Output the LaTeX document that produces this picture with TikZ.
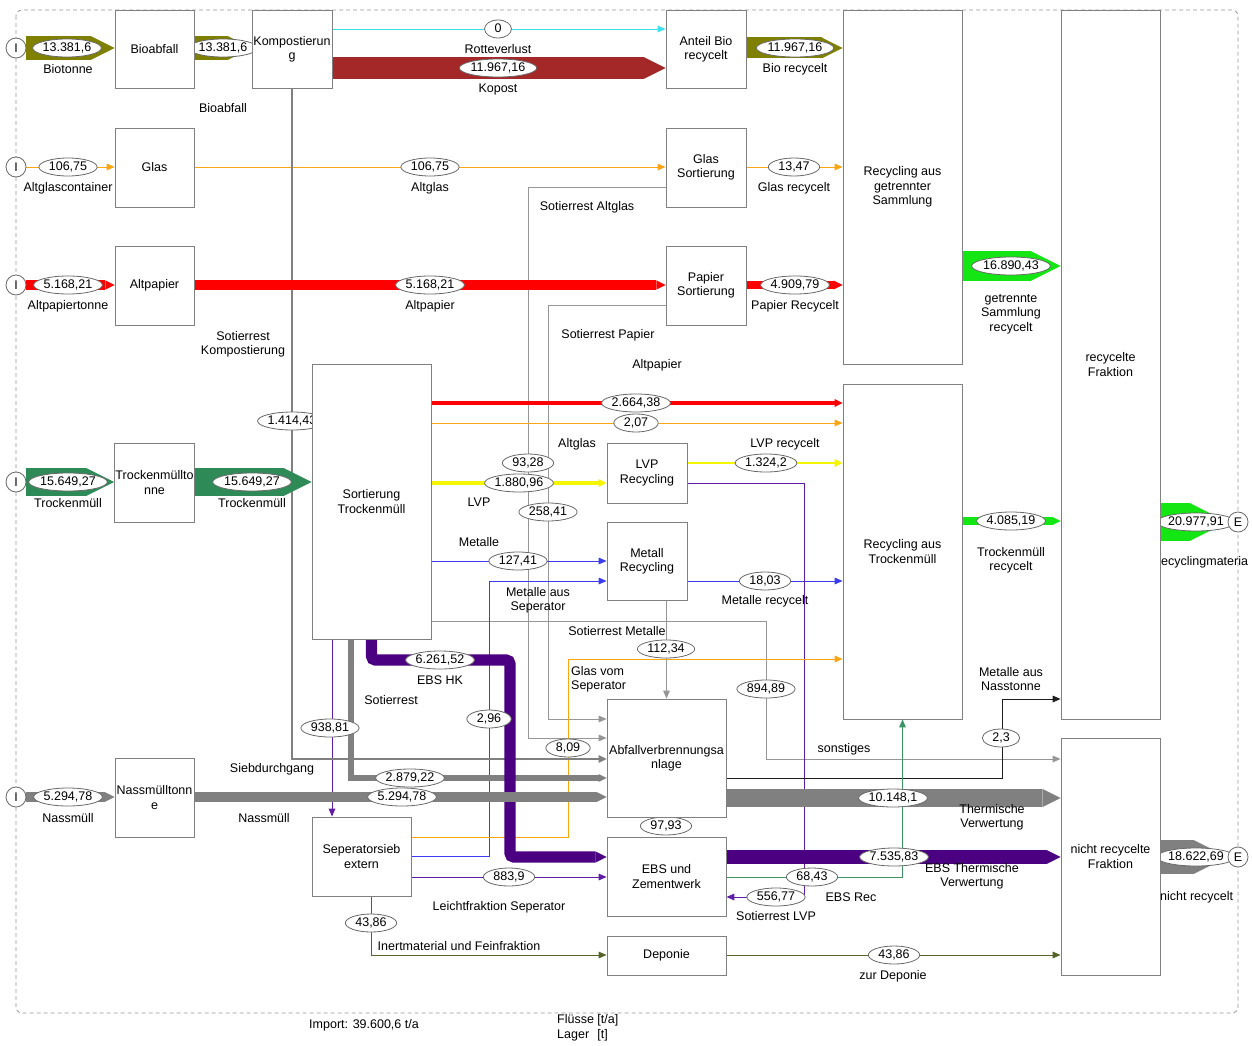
\documentclass[tikz,border=0pt]{standalone}
\usepackage{fontspec}
\setmainfont{Liberation Sans}
\usetikzlibrary{arrows.meta,shapes.geometric}

\definecolor{boxgray}{RGB}{128,128,128}
\definecolor{ellgray}{RGB}{105,105,105}
\definecolor{framegray}{RGB}{150,150,150}
\definecolor{bioolive}{RGB}{128,128,0}
\definecolor{kompbrown}{RGB}{165,40,40}
\definecolor{paperred}{RGB}{255,0,0}
\definecolor{glasorange}{RGB}{250,165,20}
\definecolor{losscyan}{RGB}{60,225,240}
\definecolor{drygreen}{RGB}{46,139,87}
\definecolor{recgreen}{RGB}{20,230,20}
\definecolor{wetgray}{RGB}{128,128,128}
\definecolor{restgray}{RGB}{150,150,150}
\definecolor{lvpyellow}{RGB}{245,245,0}
\definecolor{metblue}{RGB}{60,60,240}
\definecolor{ebsindigo}{RGB}{75,0,130}
\definecolor{ebsthin}{RGB}{95,30,165}
\definecolor{ebsgreen}{RGB}{60,150,100}
\definecolor{landolive}{RGB}{85,100,40}
\definecolor{metblack}{RGB}{30,30,30}

\pgfdeclarelayer{flows}
\pgfdeclarelayer{labels}
\pgfsetlayers{flows,labels,main}

% value ellipse: 20pt wider than its text
\newcommand\vlab[3]{\node[val, minimum width={width("#3")+20}] (#1) at (#2) {#3};}

\begin{document}
\fontsize{12.5}{14.3}\selectfont%
\begin{tikzpicture}[x=1pt,y=-1pt,
  font=\fontsize{12.5}{14.3}\selectfont,
  box/.style={draw=boxgray, line width=0.9pt, fill=white, align=center, inner sep=1pt},
  val/.style={ellipse, draw=ellgray, line width=0.8pt, fill=white, inner xsep=0pt, inner ysep=0pt,
              text height=9pt, text depth=1.6pt, minimum height=18pt},
  lab/.style={align=center, inner sep=0pt},
  port/.style={circle, draw=ellgray, fill=white, line width=0.8pt, minimum size=20pt, inner sep=0pt},
  band/.style n args={3}{draw=#1, line width=#2pt, -{Triangle[length=#3pt,width=#3pt,line width=0pt]}},
  thinarrow/.style={draw=#1, line width=0.9pt, -{Triangle[length=8pt,width=7pt,line width=0pt]}},
  frame/.style={draw=framegray, line width=0.8pt, dash pattern=on 4pt off 3pt, rounded corners=6pt},
]
\useasboundingbox (0,0) rectangle (1252,1046);

% ---------- processes ----------
\node[box, minimum width=79pt, minimum height=78pt] (bioab) at (154.5,49) {Bioabfall};
\node[box, minimum width=80pt, minimum height=78pt] (kompost) at (292,49) {Kompostierun\\g};
\node[box, minimum width=79pt, minimum height=79pt] (glas) at (154.5,167.5) {Glas};
\node[box, minimum width=79pt, minimum height=79pt] (altpap) at (154.5,285.5) {Altpapier};
\node[box, minimum width=79pt, minimum height=79pt] (trockton) at (154.5,482.5) {Trockenmüllto\\nne};
\node[box, minimum width=79pt, minimum height=79pt] (nasston) at (154.5,797.5) {Nassmülltonn\\e};
\node[box, minimum width=119pt, minimum height=275pt] (sortier) at (371.5,501.5) {Sortierung\\Trockenmüll};
\node[box, minimum width=99pt, minimum height=79pt] (sepsieb) at (361.5,856.5) {Seperatorsieb\\extern};
\node[box, minimum width=80pt, minimum height=78pt] (antbio) at (706,49) {Anteil Bio\\recycelt};
\node[box, minimum width=80pt, minimum height=79pt] (glassort) at (706,167.5) {Glas\\Sortierung};
\node[box, minimum width=80pt, minimum height=79pt] (papsort) at (706,285.5) {Papier\\Sortierung};
\node[box, minimum width=80pt, minimum height=60pt] (lvprec) at (647,473) {LVP\\Recycling};
\node[box, minimum width=80pt, minimum height=78pt] (metrec) at (647,561) {Metall\\Recycling};
\node[box, minimum width=119pt, minimum height=118pt] (mva) at (666.5,758) {Abfallverbrennungsa\\nlage};
\node[box, minimum width=119pt, minimum height=79pt] (ebs) at (666.5,876.5) {EBS und\\Zementwerk};
\node[box, minimum width=119pt, minimum height=39pt] (deponie) at (666.5,955.5) {Deponie};
\node[box, minimum width=119pt, minimum height=354pt] (recgetr) at (902.5,187) {Recycling aus\\getrennter\\Sammlung};
\node[box, minimum width=119pt, minimum height=335pt] (rectrock) at (902.5,551.5) {Recycling aus\\Trockenmüll};
\node[box, minimum width=99pt, minimum height=709pt] (recfrak) at (1110.5,364.5) {recycelte\\Fraktion};
\node[box, minimum width=99pt, minimum height=237pt] (nichtrec) at (1110.5,856.5) {nicht recycelte\\Fraktion};

% ---------- import / export ports ----------
\node[port] (i1) at (16,48) {I};
\node[port] (i2) at (16,167) {I};
\node[port] (i3) at (16,285) {I};
\node[port] (i4) at (16,482) {I};
\node[port] (i5) at (16,797) {I};
\node[port] (e1) at (1238,522) {E};
\node[port] (e2) at (1238,857) {E};

\begin{pgfonlayer}{flows}
\draw[frame] (16,10) rectangle (1238,1013);

% thin flows
\draw[thinarrow=losscyan] (kompost.east |- 0,29) -- (antbio.west |- 0,29);
\draw[thinarrow=glasorange] (i2.east) -- (i2 -| glas.west);
\draw[thinarrow=glasorange] (i2 -| glas.east) -- (i2 -| glassort.west);
\draw[thinarrow=glasorange] (i2 -| glassort.east) -- (i2 -| recgetr.west);
\draw[thinarrow=restgray] (glassort.west |- 0,187) -- (528,187) -- (528,738) -- (mva.west |- 0,738);
\draw[thinarrow=restgray] (papsort.west |- 0,305) -- (548,305) -- (548,719) -- (mva.west |- 0,719);
\draw[thinarrow=restgray] (sortier.east |- 0,621) -- (766,621) -- (766,759) -- (nichtrec.west |- 0,759);
\draw[thinarrow=restgray] (mva.north |- metrec.south) -- (mva.north);
\draw[thinarrow=glasorange] (sortier.east |- 0,423) -- (rectrock.west |- 0,423);
\draw[thinarrow=metblue] (sortier.east |- 0,561) -- (metrec.west |- 0,561);
\draw[thinarrow=metblue] (metrec.east |- 0,581) -- (rectrock.west |- 0,581);
\draw[thinarrow=ebsthin] (lvprec.east |- 0,483) -- (804,483) -- (804,897) -- (ebs.east |- 0,897);
\draw[thinarrow=ebsthin] (sortier.south -| 332,0) -- (sepsieb.north -| 332,0);
\draw[thinarrow=metblue] (sepsieb.east |- 0,856) -- (489,856) -- (489,581) -- (metrec.west |- 0,581);
\draw[thinarrow=glasorange] (sepsieb.east |- 0,837) -- (568,837) -- (568,659) -- (rectrock.west |- 0,659);
\draw[thinarrow=ebsthin] (sepsieb.east |- 0,877) -- (ebs.west |- 0,877);
\draw[thinarrow=landolive] (sepsieb.south -| 371,0) -- (371,955) -- (deponie.west |- 0,955);
\draw[thinarrow=metblack] (mva.east |- 0,778) -- (1002,778) -- (1002,699) -- (recfrak.west |- 0,699);
\draw[thinarrow=ebsgreen] (ebs.east |- 0,877) -| (rectrock.south);
\draw[thinarrow=landolive] (deponie.east |- 0,955) -- (nichtrec.west |- 0,955);

% bands, width proportional to mass flow
\draw[band={wetgray}{2.5}{8}] (kompost.south) -- (kompost.south |- 0,759) -- (mva.west |- 0,759);
\draw[band={bioolive}{24}{24}] (i1.east) -- (i1 -| bioab.west);
\draw[band={bioolive}{24}{24}] (i1 -| bioab.east) -- (i1 -| kompost.west);
\draw[band={kompbrown}{21.5}{21.5}] (kompost.east |- 0,68) -- (antbio.west |- 0,68);
\draw[band={bioolive}{21}{21}] (antbio.east |- i1) -- (recgetr.west |- i1);
\draw[band={paperred}{9.3}{9.3}] (i3.east) -- (i3 -| altpap.west);
\draw[band={paperred}{9.3}{9.3}] (i3 -| altpap.east) -- (i3 -| papsort.west);
\draw[band={paperred}{8.8}{9}] (i3 -| papsort.east) -- (i3 -| recgetr.west);
\draw[band={drygreen}{28.5}{28.5}] (i4.east) -- (i4 -| trockton.west);
\draw[band={drygreen}{28.5}{28.5}] (i4 -| trockton.east) -- (i4 -| sortier.west);
\draw[band={paperred}{4.8}{8}] (sortier.east |- 0,403) -- (rectrock.west |- 0,403);
\draw[band={lvpyellow}{3.4}{8}] (sortier.east |- 0,483) -- (lvprec.west |- 0,483);
\draw[band={lvpyellow}{2.4}{8}] (lvprec.east |- 0,463) -- (rectrock.west |- 0,463);
\draw[band={wetgray}{5.2}{8}] (sortier.south -| 351,0) -- (351,778) -- (mva.west |- 0,778);
\draw[band={ebsindigo}{11.3}{11.3}, rounded corners=4pt] (sortier.south) -- (371.5,660) -- (510,660) -- (510,857) -- (ebs.west |- 0,857);
\draw[band={wetgray}{9.5}{9.5}] (i5.east) -- (i5 -| nasston.west);
\draw[band={wetgray}{9.5}{9.5}] (i5 -| nasston.east) -- (i5 -| mva.west);
\draw[band={wetgray}{18.3}{18.3}] (mva.east |- 0,798) -- (nichtrec.west |- 0,798);
\draw[band={ebsindigo}{13.6}{13.6}] (ebs.east |- 0,857) -- (nichtrec.west |- 0,857);
\draw[band={recgreen}{30.4}{30.4}] (recgetr.east |- 0,266) -- (recfrak.west |- 0,266);
\draw[band={recgreen}{7.4}{8}] (rectrock.east |- 0,521) -- (recfrak.west |- 0,521);
\draw[band={recgreen}{37.8}{37.8}] (recfrak.east |- e1) -- (e1.west);
\draw[band={wetgray}{33.5}{33.5}] (nichtrec.east |- e2) -- (e2.west);
\end{pgfonlayer}

\begin{pgfonlayer}{labels}
% flow values
\vlab{v1}{67,48}{13.381,6}
\vlab{v2}{223,48}{13.381,6}
\vlab{v3}{498,29}{0}
\vlab{v4}{498,68}{11.967,16}
\vlab{v5}{795,48}{11.967,16}
\vlab{v6}{68,167}{106,75}
\vlab{v7}{430,167}{106,75}
\vlab{v8}{794,167}{13,47}
\vlab{v9}{68,285}{5.168,21}
\vlab{v10}{430,285}{5.168,21}
\vlab{v11}{795,285}{4.909,79}
\vlab{v12}{1011,266}{16.890,43}
\vlab{v13}{292,421}{1.414,43}
\vlab{v14}{636,403}{2.664,38}
\vlab{v15}{636,423}{2,07}
\vlab{v16}{528,463}{93,28}
\vlab{v17}{519,483}{1.880,96}
\vlab{v18}{766,463}{1.324,2}
\vlab{v19}{548,512}{258,41}
\vlab{v20}{518,561}{127,41}
\vlab{v21}{765,581}{18,03}
\vlab{v22}{68,482}{15.649,27}
\vlab{v23}{252,482}{15.649,27}
\vlab{v24}{1011,521}{4.085,19}
\vlab{v25}{1196,522}{20.977,91}
\vlab{v26}{666,649}{112,34}
\vlab{v27}{766,689}{894,89}
\vlab{v28}{440,660}{6.261,52}
\vlab{v29}{489,719}{2,96}
\vlab{v30}{330,728}{938,81}
\vlab{v31}{568,748}{8,09}
\vlab{v32}{1001,738}{2,3}
\vlab{v33}{410,778}{2.879,22}
\vlab{v34}{68,797}{5.294,78}
\vlab{v35}{402,797}{5.294,78}
\vlab{v36}{893,798}{10.148,1}
\vlab{v37}{666,826}{97,93}
\vlab{v38}{894,857}{7.535,83}
\vlab{v39}{812,877}{68,43}
\vlab{v40}{776,897}{556,77}
\vlab{v41}{509,877}{883,9}
\vlab{v42}{1196,857}{18.622,69}
\vlab{v43}{371,923}{43,86}
\vlab{v44}{894,955}{43,86}

% flow names
\node[lab] (t1) at (68,69) {Biotonne};
\node[lab] (t2) at (223,108) {Bioabfall};
\node[lab] (t3) at (498,49) {Rotteverlust};
\node[lab] (t4) at (498,89) {Kopost};
\node[lab] (t5) at (795,69) {Bio recycelt};
\node[lab] (t6) at (68,188) {Altglascontainer};
\node[lab] (t7) at (430,188) {Altglas};
\node[lab] (t8) at (794,188) {Glas recycelt};
\node[lab] (t9) at (587,207) {Sotierrest Altglas};
\node[lab] (t10) at (68,306) {Altpapiertonne};
\node[lab] (t11) at (430,306) {Altpapier};
\node[lab] (t12) at (795,306) {Papier Recycelt};
\node[lab] (t13) at (243,344) {Sotierrest\\Kompostierung};
\node[lab] (t14) at (608,335) {Sotierrest Papier};
\node[lab] (t15) at (657,365) {Altpapier};
\node[lab] (t16) at (1011,314) {getrennte\\Sammlung\\recycelt};
\node[lab] (t17) at (577,444) {Altglas};
\node[lab] (t18) at (785,444) {LVP recycelt};
\node[lab] (t19) at (68,503) {Trockenmüll};
\node[lab] (t20) at (252,503) {Trockenmüll};
\node[lab] (t21) at (479,502) {LVP};
\node[lab] (t22) at (479,542) {Metalle};
\node[lab] (t23) at (538,600) {Metalle aus\\Seperator};
\node[lab] (t24) at (765,601) {Metalle recycelt};
\node[lab] (t25) at (617,631) {Sotierrest Metalle};
\node[lab, align=left, anchor=west] (t26) at (571,679) {Glas vom\\Seperator};
\node[lab] (t27) at (1011,560) {Trockenmüll\\recycelt};
\node[lab, anchor=west] (t28) at (1161,562) {ecyclingmateria};
\node[lab] (t29) at (1011,679) {Metalle aus\\Nasstonne};
\node[lab] (t30) at (440,680) {EBS HK};
\node[lab] (t31) at (391,700) {Sotierrest};
\node[lab] (t32) at (272,769) {Siebdurchgang};
\node[lab] (t33) at (844,749) {sonstiges};
\node[lab] (t34) at (68,818) {Nassmüll};
\node[lab] (t35) at (264,818) {Nassmüll};
\node[lab] (t36) at (992,817) {Thermische\\Verwertung};
\node[lab] (t37) at (972,876) {EBS Thermische\\Verwertung};
\node[lab] (t38) at (851,897) {EBS Rec};
\node[lab] (t39) at (776,916) {Sotierrest LVP};
\node[lab] (t40) at (499,907) {Leichtfraktion Seperator};
\node[lab] (t41) at (459,946) {Inertmaterial und Feinfraktion};
\node[lab] (t42) at (893,976) {zur Deponie};
\node[lab, anchor=west] (t43) at (1160,897) {nicht recycelt};
\node[lab] (t44) at (364,1025) {Import: 39.600,6 t/a};
\node[lab, anchor=west] (t45) at (557,1028) {\begin{tabular}{@{}l@{ }l@{}}Flüsse & [t/a]\\ Lager & [t]\end{tabular}};
\end{pgfonlayer}
\end{tikzpicture}
\end{document}
